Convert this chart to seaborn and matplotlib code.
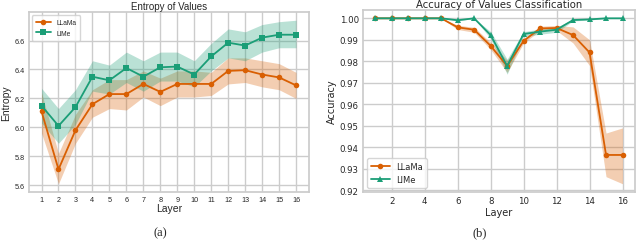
import numpy as np
import pandas as pd
import matplotlib
matplotlib.use("Agg")
import matplotlib.pyplot as plt
import seaborn as sns

# Layers
layers = list(range(1, 17))

# Entropy of values (left panel)
ent_llama = [6.11, 5.71, 5.98, 6.16, 6.23, 6.23, 6.30, 6.245, 6.30, 6.30, 6.30, 6.39, 6.395, 6.365, 6.345, 6.29]
ent_llama_lo = [5.96, 5.61, 5.89, 6.07, 6.13, 6.12, 6.21, 6.15, 6.21, 6.21, 6.22, 6.30, 6.31, 6.28, 6.26, 6.20]
ent_llama_hi = [6.24, 5.82, 6.09, 6.26, 6.33, 6.33, 6.39, 6.34, 6.39, 6.39, 6.38, 6.48, 6.48, 6.46, 6.44, 6.38]
ent_lime = [6.15, 6.01, 6.14, 6.35, 6.325, 6.41, 6.35, 6.415, 6.42, 6.365, 6.49, 6.585, 6.565, 6.62, 6.64, 6.64]
ent_lime_lo = [6.03, 5.89, 6.02, 6.25, 6.23, 6.31, 6.25, 6.32, 6.32, 6.28, 6.39, 6.48, 6.46, 6.52, 6.55, 6.55]
ent_lime_hi = [6.27, 6.13, 6.26, 6.46, 6.43, 6.52, 6.46, 6.52, 6.52, 6.46, 6.58, 6.68, 6.66, 6.71, 6.73, 6.74]

# Accuracy of values classification (right panel)
acc_llama = [1.0, 1.0, 1.0, 1.0, 1.0, 0.9958, 0.9947, 0.9872, 0.9778, 0.9895, 0.9953, 0.9955, 0.9922, 0.9841, 0.9364, 0.9364]
acc_llama_lo = [1.0, 1.0, 1.0, 1.0, 1.0, 0.9948, 0.9935, 0.9855, 0.9748, 0.9885, 0.9943, 0.9943, 0.9885, 0.9780, 0.9263, 0.9230]
acc_llama_hi = [1.0, 1.0, 1.0, 1.0, 1.0, 0.9968, 0.9958, 0.9888, 0.9805, 0.9905, 0.9963, 0.9967, 0.9960, 0.9900, 0.9466, 0.9490]
acc_lime = [1.0, 1.0, 1.0, 1.0, 1.0, 0.9991, 1.0, 0.9922, 0.9778, 0.9927, 0.9938, 0.9947, 0.9992, 0.9995, 1.0, 1.0]
acc_lime_lo = [1.0, 1.0, 1.0, 1.0, 1.0, 0.9988, 1.0, 0.9905, 0.9740, 0.9915, 0.9926, 0.9935, 0.9988, 0.9992, 1.0, 1.0]
acc_lime_hi = [1.0, 1.0, 1.0, 1.0, 1.0, 0.9994, 1.0, 0.9938, 0.9810, 0.9938, 0.9950, 0.9958, 0.9996, 0.9998, 1.0, 1.0]

acc_ticks = [0.92, 0.93, 0.94, 0.95, 0.96, 0.97, 0.98, 0.99, 1.00]

orange = "#d95f02"
green = "#1b9e77"

sns.set_theme(style="whitegrid")

fig = plt.figure(figsize=(6.4, 2.51), dpi=100)

# ---------- left panel: entropy
ax1 = fig.add_axes([0.045, 0.231, 0.4375, 0.717])
df_ent = pd.DataFrame({
    "Layer": layers * 2,
    "Entropy": ent_llama + ent_lime,
    "model": ["LLaMa"] * 16 + ["LlMe"] * 16,
})
sns.lineplot(data=df_ent, x="Layer", y="Entropy", hue="model", style="model",
             markers={"LLaMa": "o", "LlMe": "s"}, dashes=False,
             palette={"LLaMa": orange, "LlMe": green},
             markersize=4, linewidth=1.3, markeredgewidth=0, ax=ax1)
ax1.fill_between(layers, ent_llama_lo, ent_llama_hi, color=orange, alpha=0.3, linewidth=0)
ax1.fill_between(layers, ent_lime_lo, ent_lime_hi, color=green, alpha=0.3, linewidth=0)
ax1.set_xticks(layers)
ax1.set_yticks([5.6, 5.8, 6.0, 6.2, 6.4, 6.6])
lab_font = "Liberation Sans"
ax1.set_title("Entropy of Values", fontsize=7, family=lab_font, pad=2)
ax1.set_xlabel("Layer", fontsize=7.5, family=lab_font, labelpad=0)
ax1.set_ylabel("Entropy", fontsize=7.5, family=lab_font, labelpad=2)
for t in ax1.get_xticklabels() + ax1.get_yticklabels():
    t.set_fontsize(5.2)
    t.set_family(lab_font)
ax1.tick_params(length=0, pad=3)
leg1 = ax1.legend(loc="upper left", fontsize=4.8, frameon=True, handlelength=2.2,
                  borderpad=0.6, labelspacing=0.5)
for t in leg1.get_texts():
    t.set_family(lab_font)

# ---------- right panel: accuracy
ax2 = fig.add_axes([0.567, 0.231, 0.425, 0.725])
df_acc = pd.DataFrame({
    "Layer": layers * 2,
    "Accuracy": acc_llama + acc_lime,
    "model": ["LLaMa"] * 16 + ["LlMe"] * 16,
})
sns.lineplot(data=df_acc, x="Layer", y="Accuracy", hue="model", style="model",
             markers={"LLaMa": "o", "LlMe": "^"}, dashes=False,
             palette={"LLaMa": orange, "LlMe": green},
             markersize=4, linewidth=1.3, markeredgewidth=0, ax=ax2)
ax2.fill_between(layers, acc_llama_lo, acc_llama_hi, color=orange, alpha=0.3, linewidth=0)
ax2.fill_between(layers, acc_lime_lo, acc_lime_hi, color=green, alpha=0.3, linewidth=0)
ax2.set_xticks([2, 4, 6, 8, 10, 12, 14, 16])
ax2.set_yticks(acc_ticks)
ax2.set_yticklabels([f"{v:.2f}" for v in acc_ticks])
ax2.set_title("Accuracy of Values Classification", fontsize=7.3, pad=2)
ax2.set_xlabel("Layer", fontsize=7, labelpad=1)
ax2.set_ylabel("Accuracy", fontsize=7, labelpad=2)
ax2.tick_params(labelsize=6.2, length=0, pad=3)
ax2.legend(loc="lower left", fontsize=6, frameon=True, handlelength=2.2,
           borderpad=0.5, labelspacing=0.4)

# captions
fig.text(0.25, 0.06, "(a)", fontsize=9, family="Liberation Serif", ha="center")
fig.text(0.75, 0.06, "(b)", fontsize=9, family="Liberation Serif", ha="center")

fig.savefig("out.png", dpi=100)
